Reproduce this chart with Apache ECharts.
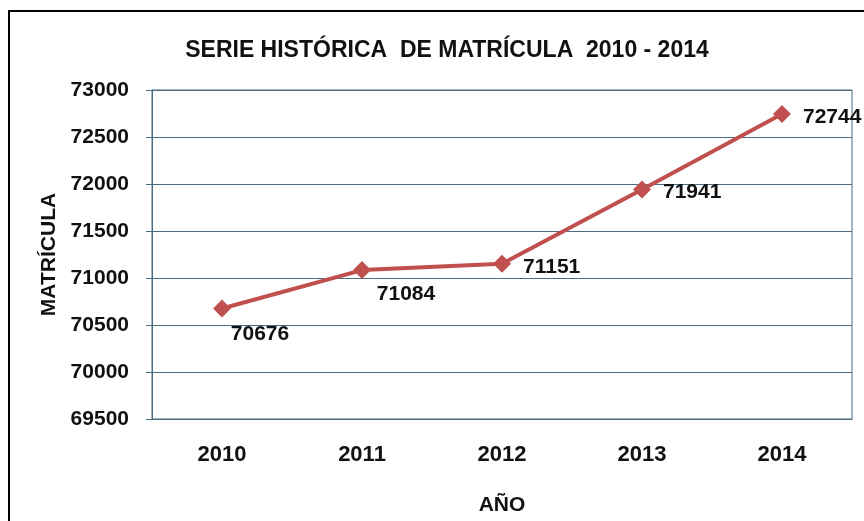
<!DOCTYPE html>
<html>
<head>
<meta charset="utf-8">
<script src="https://cdn.jsdelivr.net/npm/echarts@6/dist/echarts.min.js"></script>
<style>
  body { margin: 0; background: #fff; }
  #chart1 { width: 864px; height: 521px; }
</style>
</head>
<body>
<div id="chart1"></div>
<script>
var years = ['2010', '2011', '2012', '2013', '2014'];
var matricula = [70676, 71084, 71151, 71941, 72744];
var yTicks = [69500, 73000, 500];

var font = 'Liberation Sans';
var gridColor = '#4b6b80';

// etiquetas: las dos primeras van debajo a la derecha
var labelOffsets = [[38, 26], [44, 24], [0, 3], [0, 3], [0, 3]];

var myChart1 = echarts.init(document.getElementById('chart1'));
var option = {
  backgroundColor: '#fff',
  title: {
    text: 'SERIE HISTÓRICA  DE MATRÍCULA  2010 - 2014',
    left: 442,
    textAlign: 'center',
    top: 34,
    textStyle: { fontFamily: font, fontWeight: 'bold', fontSize: 23, color: '#111' }
  },
  graphic: [
    {
      type: 'polyline',
      shape: { points: [[9, 521], [9, 11], [864, 11]] },
      style: { stroke: '#000', lineWidth: 2, fill: null }
    }
  ],
  grid: {
    left: 152,
    right: 12,
    top: 90,
    bottom: 100,
    show: true,
    borderColor: gridColor,
    borderWidth: 1
  },
  xAxis: {
    type: 'category',
    data: years,
    boundaryGap: true,
    name: 'AÑO',
    nameLocation: 'middle',
    nameGap: 76,
    nameTextStyle: { fontFamily: font, fontWeight: 'bold', fontSize: 21, color: '#111' },
    axisLine: { lineStyle: { color: gridColor } },
    axisTick: { show: false },
    axisLabel: { fontFamily: font, fontWeight: 'bold', fontSize: 22, color: '#111', margin: 25 }
  },
  yAxis: {
    type: 'value',
    min: yTicks[0],
    max: yTicks[1],
    interval: yTicks[2],
    name: 'MATRÍCULA',
    nameLocation: 'middle',
    nameGap: 90,
    nameTextStyle: { fontFamily: font, fontWeight: 'bold', fontSize: 21, color: '#111' },
    axisLine: { show: true, lineStyle: { color: gridColor } },
    axisTick: { show: true, length: 6, lineStyle: { color: gridColor } },
    axisLabel: {
      fontFamily: font, fontWeight: 'bold', fontSize: 21, color: '#111', margin: 23,
      formatter: function (v) { return String(v); }
    },
    splitLine: { lineStyle: { color: gridColor, width: 1 } }
  },
  series: [
    {
      name: 'Matrícula',
      type: 'line',
      data: matricula.map(function (v, i) {
        return {
          value: v,
          label: { offset: labelOffsets[i], position: i < 2 ? 'inside' : 'right' }
        };
      }),
      symbol: 'diamond',
      symbolSize: 18,
      lineStyle: { color: '#c0504d', width: 4 },
      itemStyle: { color: '#c0504d' },
      label: {
        show: true,
        position: 'right',
        distance: 12,
        fontFamily: font,
        fontWeight: 'bold',
        fontSize: 21,
        color: '#111'
      }
    }
  ]
};
myChart1.setOption(option);
</script>
</body>
</html>
